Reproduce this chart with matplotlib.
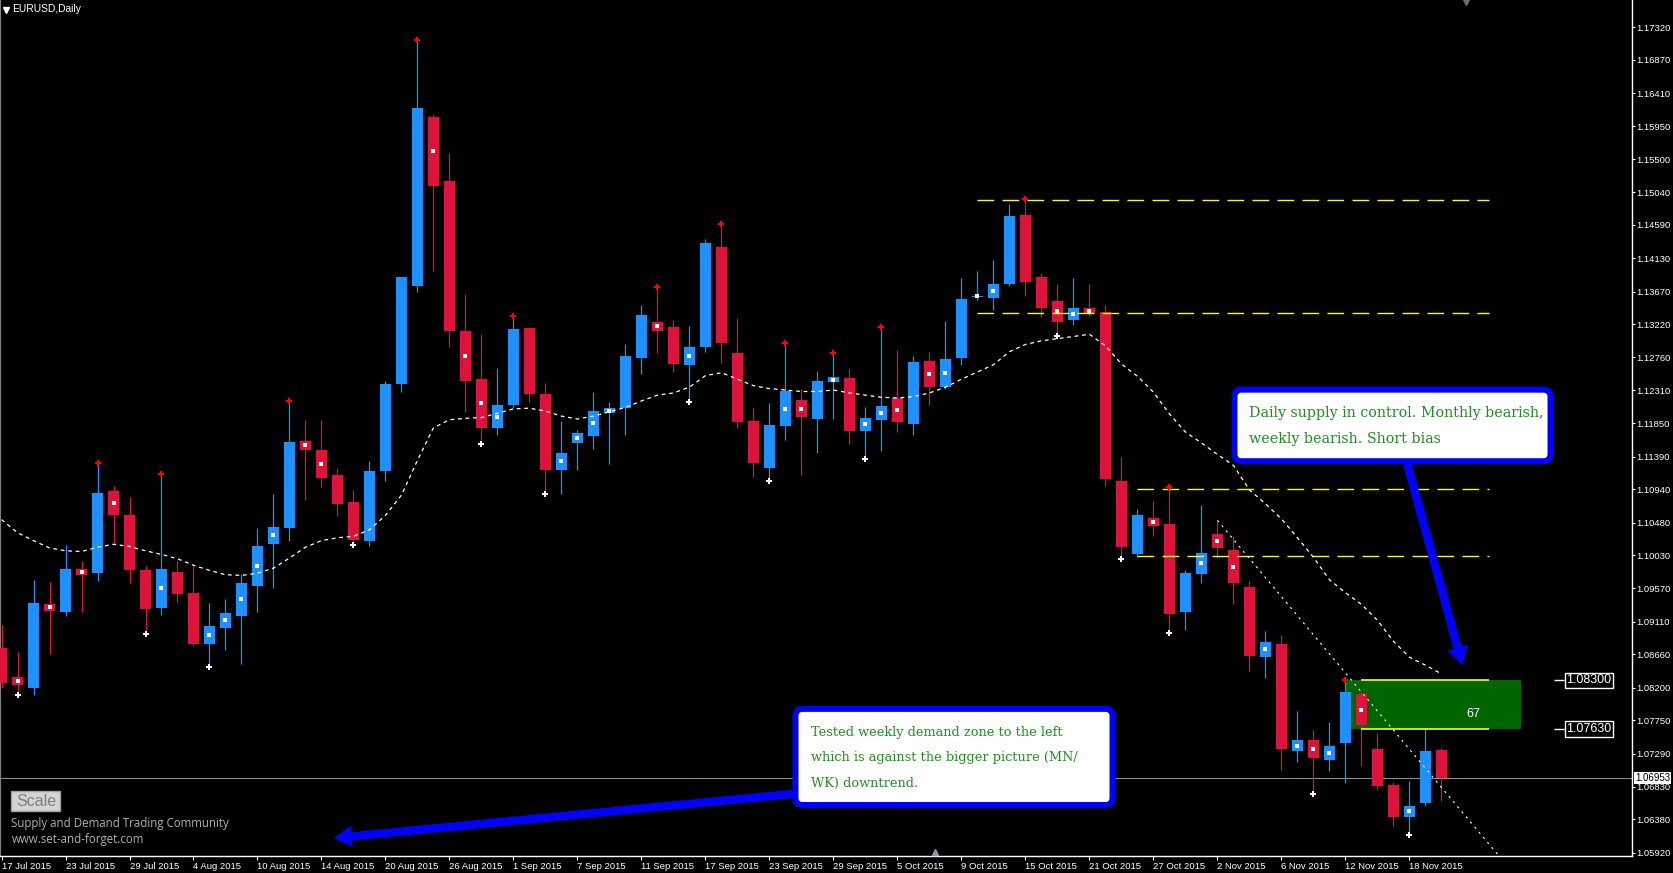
import numpy as np
import matplotlib
matplotlib.use("Agg")
import matplotlib.pyplot as plt
import matplotlib.transforms as mtransforms
from matplotlib.patches import FancyBboxPatch, FancyArrowPatch, Rectangle, Circle
from matplotlib.lines import Line2D

# daily EURUSD candles, 17 Jul 2015 .. 20 Nov 2015
opens = [1.0875, 1.0835, 1.0820, 1.0936, 1.0925, 1.0984, 1.0979, 1.1092, 1.1058, 1.0982,
         1.0930, 1.0980, 1.0951, 1.0880, 1.0903, 1.0919, 1.0961, 1.1019, 1.1041, 1.1161,
         1.1148, 1.1114, 1.1076, 1.1023, 1.1119, 1.1240, 1.1375, 1.1608, 1.1520, 1.1313,
         1.1246, 1.1178, 1.1210, 1.1317, 1.1225, 1.1121, 1.1158, 1.1168, 1.1199, 1.1206,
         1.1275, 1.1325, 1.1318, 1.1266, 1.1290, 1.1429, 1.1282, 1.1188, 1.1124, 1.1181,
         1.1217, 1.1191, 1.1242, 1.1248, 1.1174, 1.1190, 1.1220, 1.1184, 1.1271, 1.1235,
         1.1275, 1.1360, 1.1358, 1.1378, 1.1473, 1.1387, 1.1354, 1.1328, 1.1344, 1.1339,
         1.1105, 1.1004, 1.1054, 1.1046, 1.0924, 1.0977, 1.1032, 1.1010, 1.0959, 1.0863,
         1.0880, 1.0732, 1.0748, 1.0720, 1.0743, 1.0811, 1.0735, 1.0686, 1.0642, 1.0660,
         1.0734]
highs = [1.0907, 1.0869, 1.0969, 1.0966, 1.1017, 1.0995, 1.1130, 1.1099, 1.1083, 1.0988,
         1.1115, 1.0995, 1.0988, 1.0937, 1.0942, 1.0977, 1.1040, 1.1087, 1.1216, 1.1189,
         1.1189, 1.1124, 1.1093, 1.1133, 1.1244, 1.1387, 1.1715, 1.1612, 1.1559, 1.1364,
         1.1309, 1.1262, 1.1333, 1.1318, 1.1241, 1.1188, 1.1176, 1.1228, 1.1214, 1.1295,
         1.1349, 1.1373, 1.1328, 1.1320, 1.1440, 1.1460, 1.1330, 1.1206, 1.1213, 1.1296,
         1.1233, 1.1258, 1.1282, 1.1260, 1.1208, 1.1318, 1.1287, 1.1278, 1.1283, 1.1327,
         1.1386, 1.1396, 1.1410, 1.1488, 1.1495, 1.1393, 1.1378, 1.1386, 1.1377, 1.1349,
         1.1139, 1.1067, 1.1078, 1.1097, 1.0983, 1.1072, 1.1051, 1.1029, 1.0967, 1.0898,
         1.0893, 1.0788, 1.0762, 1.0772, 1.0831, 1.0814, 1.0757, 1.0690, 1.0691, 1.0764,
         1.0737]
lows = [1.0820, 1.0810, 1.0810, 1.0867, 1.0919, 1.0924, 1.0967, 1.1020, 1.0965, 1.0894,
        1.0920, 1.0938, 1.0877, 1.0849, 1.0872, 1.0853, 1.0924, 1.0958, 1.1023, 1.1079,
        1.1097, 1.1057, 1.1017, 1.1016, 1.1105, 1.1228, 1.1367, 1.1395, 1.1290, 1.1201,
        1.1157, 1.1169, 1.1206, 1.1215, 1.1087, 1.1088, 1.1121, 1.1150, 1.1129, 1.1169,
        1.1253, 1.1282, 1.1256, 1.1215, 1.1283, 1.1268, 1.1179, 1.1111, 1.1105, 1.1162,
        1.1114, 1.1144, 1.1191, 1.1156, 1.1136, 1.1147, 1.1173, 1.1169, 1.1210, 1.1233,
        1.1265, 1.1356, 1.1342, 1.1375, 1.1361, 1.1332, 1.1305, 1.1321, 1.1333, 1.1098,
        1.0998, 1.1001, 1.1029, 1.0896, 1.0900, 1.0964, 1.0999, 1.0935, 1.0843, 1.0833,
        1.0706, 1.0717, 1.0673, 1.0705, 1.0688, 1.0712, 1.0679, 1.0629, 1.0617, 1.0656,
        1.0663]
closes = [1.0827, 1.0824, 1.0937, 1.0926, 1.0984, 1.0976, 1.1089, 1.1059, 1.0983, 1.0929,
          1.0984, 1.0949, 1.0880, 1.0905, 1.0923, 1.0965, 1.1016, 1.1042, 1.1159, 1.1148,
          1.1109, 1.1074, 1.1024, 1.1119, 1.1240, 1.1387, 1.1620, 1.1513, 1.1312, 1.1243,
          1.1179, 1.1210, 1.1315, 1.1226, 1.1121, 1.1144, 1.1171, 1.1202, 1.1206, 1.1278,
          1.1335, 1.1313, 1.1267, 1.1291, 1.1434, 1.1296, 1.1187, 1.1130, 1.1183, 1.1230,
          1.1194, 1.1244, 1.1249, 1.1174, 1.1193, 1.1209, 1.1187, 1.1270, 1.1235, 1.1274,
          1.1357, 1.1361, 1.1378, 1.1471, 1.1380, 1.1345, 1.1325, 1.1344, 1.1337, 1.1108,
          1.1014, 1.1058, 1.1043, 1.0922, 1.0978, 1.1006, 1.1013, 1.0964, 1.0864, 1.0883,
          1.0735, 1.0748, 1.0723, 1.0739, 1.0814, 1.0768, 1.0684, 1.0642, 1.0657, 1.0733,
          1.0695]

# moving average (white dashed)
ma = [1.1052, 1.1034, 1.1023, 1.1013, 1.1009, 1.1008, 1.1014, 1.1018, 1.1015, 1.1009,
      1.1004, 1.0998, 1.0989, 1.0982, 1.0976, 1.0975, 1.0978, 1.0985, 1.0999, 1.1014,
      1.1023, 1.1027, 1.1029, 1.1038, 1.1058, 1.1086, 1.1134, 1.1179, 1.1190, 1.1192,
      1.1193, 1.1199, 1.1205, 1.1206, 1.1202, 1.1195, 1.1191, 1.1195, 1.1201, 1.1207,
      1.1216, 1.1224, 1.1227, 1.1235, 1.1251, 1.1255, 1.1246, 1.1237, 1.1233, 1.1231,
      1.1229, 1.1229, 1.1231, 1.1227, 1.1224, 1.1221, 1.1220, 1.1222, 1.1227, 1.1235,
      1.1246, 1.1256, 1.1266, 1.1284, 1.1294, 1.1299, 1.1302, 1.1305, 1.1308, 1.1292,
      1.1267, 1.1250, 1.1228, 1.1198, 1.1173, 1.1158, 1.1142, 1.1127, 1.1093, 1.1074,
      1.1053, 1.1027, 1.1000, 1.0969, 1.0951, 1.0935, 1.0913, 1.0884, 1.0862, 1.0851,
      1.0839]

fractal_up = [6, 10, 18, 26, 32, 41, 45, 49, 52, 55, 64, 73, 84]
fractal_down = [1, 9, 13, 22, 30, 34, 43, 48, 54, 66, 70, 73, 82, 88]
dot_bars = [1, 3, 5, 7, 10, 13, 14, 15, 16, 17, 19, 20, 27, 29, 30, 31, 35, 36, 37, 38,
            41, 43, 49, 50, 52, 54, 55, 56, 58, 59, 61, 62, 66, 67, 68, 72, 75, 76, 77,
            79, 81, 82, 83, 85, 88]

date_labels = ["17 Jul 2015", "23 Jul 2015", "29 Jul 2015", "4 Aug 2015", "10 Aug 2015",
               "14 Aug 2015", "20 Aug 2015", "26 Aug 2015", "1 Sep 2015", "7 Sep 2015",
               "11 Sep 2015", "17 Sep 2015", "23 Sep 2015", "29 Sep 2015", "5 Oct 2015",
               "9 Oct 2015", "15 Oct 2015", "21 Oct 2015", "27 Oct 2015", "2 Nov 2015",
               "6 Nov 2015", "12 Nov 2015", "18 Nov 2015"]
price_ticks = [1.17320, 1.16870, 1.16410, 1.15950, 1.15500, 1.15040, 1.14590, 1.14130,
               1.13670, 1.13220, 1.12760, 1.12310, 1.11850, 1.11390, 1.10940, 1.10480,
               1.10030, 1.09570, 1.09110, 1.08660, 1.08200, 1.07750, 1.07290, 1.06830,
               1.06380, 1.05920]

levels = [1.1493, 1.1337, 1.1094, 1.1002]
level_start = [61, 61, 71, 71]
level_end = 93
zone_top, zone_bottom = 1.0830, 1.0763
trend_bars = [76, 93.5]
trend_prices = [1.1051, 1.0590]
bid = 1.06953

BLUE = "#1E90FF"
RED = "#DC143C"
TXT_GREEN = "#1f8f1f"
W, H = 1673, 873

plt.rcParams["font.family"] = ["Liberation Sans", "DejaVu Sans"]

fig = plt.figure(figsize=(W / 100, H / 100), dpi=100, facecolor="black")
ax = fig.add_axes([0, 1 - 856 / H, 1631.7 / W, 856 / H], facecolor="black")
# pixel coords (origin top-left) -> figure
pix = mtransforms.Affine2D().scale(1 / W, -1 / H).translate(0, 1) + fig.transFigure

o = np.array(opens)
h = np.array(highs)
l = np.array(lows)
c = np.array(closes)
x = np.arange(len(o))
col = np.where(c >= o, BLUE, RED)

ax.add_patch(Rectangle((84.03, zone_bottom), 10.94, zone_top - zone_bottom,
                       facecolor="#006400", lw=0, zorder=1))
ax.vlines(x, l, h, colors=col, lw=0.9, zorder=2)
ax.bar(x, np.maximum(np.abs(c - o), 0.00012), 0.69, np.minimum(o, c),
       color=col, lw=0, zorder=3)

mid = (o + c) / 2
ax.scatter(x[dot_bars], mid[dot_bars], s=5, marker="s", color="white", lw=0, zorder=6)
ax.scatter(x[fractal_up], h[fractal_up], s=16, marker="P", color="red", lw=0, zorder=6)
ax.scatter(x[fractal_down], l[fractal_down], s=16, marker="P", color="white", lw=0, zorder=6)

ax.plot(x, ma, color="white", lw=0.9, ls=(0, (3, 3)), zorder=5)
ax.plot(trend_bars, trend_prices, color="white", lw=0.8, ls=(0, (2, 4)), zorder=5)

for lev, st in zip(levels, level_start):
    ax.hlines(lev, st, level_end, colors="yellow", lw=1, linestyles=(0, (12, 6)), zorder=4)
ax.hlines([zone_top, zone_bottom], 85, 93, colors="yellow", lw=1.2, zorder=4)
ax.text(91.97, 1.0783, "67", color="white", fontsize=9, ha="center", va="center", zorder=7)

for p in [zone_top, zone_bottom]:
    ax.hlines(p, 97.03, 97.66, colors="white", lw=1, zorder=7)
    ax.text(97.8, p, "%.5f" % p, color="white", fontsize=9, va="center", ha="left",
            bbox=dict(facecolor="black", edgecolor="white", lw=1, pad=1.2), zorder=7)

ax.axhline(bid, color="#8c8c8c", lw=0.8, zorder=1)
ax.text(1.002, bid, "%.5f" % bid, transform=ax.get_yaxis_transform(), color="black",
        fontsize=7, va="center", ha="left", clip_on=False, zorder=10,
        bbox=dict(facecolor="white", edgecolor="none", pad=0.8))

ax.set_xlim(-0.094, 101.89)
ax.set_ylim(1.058748, 1.17697)
ax.yaxis.tick_right()
ax.set_yticks(price_ticks)
ax.set_yticklabels(["%.5f" % t for t in price_ticks])
ax.set_xticks(range(0, 4 * len(date_labels), 4))
ax.set_xticklabels(date_labels)
for lbl in ax.get_xticklabels():
    lbl.set_horizontalalignment("left")
ax.tick_params(axis="y", colors="white", labelsize=6.8, length=2, width=0.8, pad=1.5)
ax.tick_params(axis="x", colors="white", labelsize=6.8, length=3, width=0.8, pad=1)
ax.spines["top"].set_visible(False)
ax.spines["left"].set_color("#808080")
ax.spines["left"].set_linewidth(0.8)
for s in ["right", "bottom"]:
    ax.spines[s].set_color("white")
    ax.spines[s].set_linewidth(1)

# header, button, watermark
fig.add_artist(Line2D([6], [10], marker="v", ms=4, color="white", lw=0, transform=pix))
fig.text(12.5, 9, "EURUSD,Daily", transform=pix, color="white", fontsize=7.4, va="center")
fig.add_artist(Rectangle((11.5, 791), 49, 19.7, facecolor="#d4d4d4", edgecolor="#a0a0a0",
                         lw=1, transform=pix))
fig.text(36, 801, "Scale", transform=pix, color="#808080", fontsize=11.5,
         ha="center", va="center")
fig.text(11.5, 823.3, "Supply and Demand Trading Community", transform=pix,
         color="#b0b0b0", fontsize=8.3, family="Open Sans", va="center")
fig.text(11.5, 839.3, "www.set-and-forget.com", transform=pix,
         color="#b0b0b0", fontsize=8.3, family="Open Sans", va="center")
fig.add_artist(Line2D([934.6], [852], marker="^", ms=5, color="#8a98a8", lw=0, transform=pix))
fig.add_artist(Line2D([1466], [1.5], marker="v", ms=5, color="#707070", lw=0, transform=pix))

# callouts
arrow_style = "simple,head_length=11.5,head_width=13.5,tail_width=5"
fig.add_artist(FancyArrowPatch((1408, 467), (1462, 664), arrowstyle=arrow_style,
                               mutation_scale=1, color="#0000ff", shrinkA=0, shrinkB=0,
                               transform=pix))
fig.add_artist(Circle((1408, 467), 4, color="#0000ff", transform=pix))
fig.add_artist(FancyArrowPatch((792, 794), (335, 838), arrowstyle=arrow_style,
                               mutation_scale=1, color="#0000ff", shrinkA=0, shrinkB=0,
                               transform=pix))

fig.add_artist(FancyBboxPatch((1234.5, 389.7), 316, 71.5,
                              boxstyle="round,pad=0,rounding_size=7",
                              facecolor="white", edgecolor="#0000ff", lw=4.3, transform=pix))
fig.text(1249.3, 412.7, "Daily supply in control. Monthly bearish,", transform=pix,
         color=TXT_GREEN, fontsize=10.3, family="DejaVu Serif", va="center")
fig.text(1249.3, 439, "weekly bearish. Short bias", transform=pix,
         color=TXT_GREEN, fontsize=10.3, family="DejaVu Serif", va="center")

fig.add_artist(FancyBboxPatch((795.5, 708.9), 317, 96.1,
                              boxstyle="round,pad=0,rounding_size=7",
                              facecolor="white", edgecolor="#0000ff", lw=4.3, transform=pix))
for yy, line in zip([732.3, 757.3, 783.3],
                    ["Tested weekly demand zone to the left",
                     "which is against the bigger picture (MN/",
                     "WK) downtrend."]):
    fig.text(810.7, yy, line, transform=pix, color=TXT_GREEN, fontsize=9.3,
             family="DejaVu Serif", va="center")

fig.savefig("out.png", dpi=100, facecolor="black")
